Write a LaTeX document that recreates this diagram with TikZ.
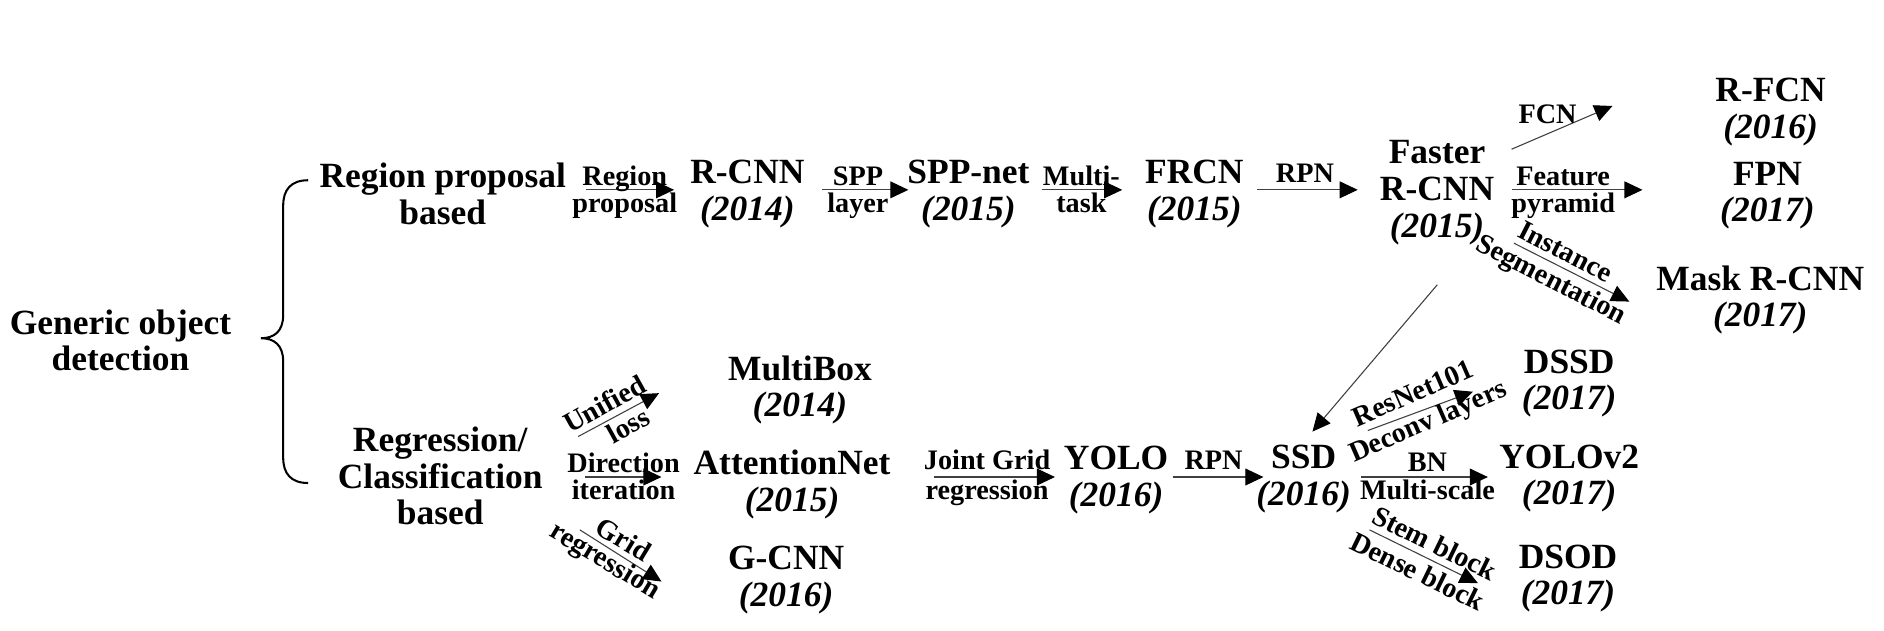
\documentclass[tikz,border=0pt]{standalone}
\usepackage{fontspec}
\setmainfont{Liberation Serif}
\usetikzlibrary{arrows.meta}
\begin{document}
\begin{tikzpicture}[x=1pt,y=-1pt,
  nm/.style={font=\fontsize{29.5}{31}\selectfont\bfseries, inner sep=0pt, anchor=base},
  yr/.style={font=\fontsize{29.5}{31}\selectfont\bfseries\itshape, inner sep=0pt, anchor=base},
  sm/.style={font=\fontsize{23.5}{25}\selectfont\bfseries, inner sep=0pt, anchor=base},
  rl/.style={font=\fontsize{23.5}{25}\selectfont\bfseries, inner sep=0pt, anchor=center},
  arr/.style={draw=black!75, line width=0.9pt, -{Triangle[length=15pt,width=14pt,fill=black,color=black]}},
  brace/.style={draw=black, line width=1.7pt}
]
\useasboundingbox (0,0) rectangle (1568,525);

% root and categories
\node[nm] (gen1) at (100.3,278) {Generic object};
\node[nm] (gen2) at (100.3,308.5) {detection};
\node[nm] (rp1) at (368.5,156) {Region proposal};
\node[nm] (rp2) at (368.5,186.5) {based};
\node[nm] (rc1) at (366.4,375.8) {Regression/};
\node[nm] (rc2) at (366.4,406.3) {Classification};
\node[nm] (rc3) at (366.4,436.8) {based};

% brace
\coordinate (bt) at (256.5,150);
\coordinate (bm) at (217.2,281.5);
\coordinate (bb) at (256.5,402);
\draw[brace] (bt) .. controls (242,150) and (235.7,158) .. (235.7,171) -- (235.7,262)
  .. controls (235.7,276) and (228,281.5) .. (bm)
  .. controls (228,281.5) and (235.7,287) .. (235.7,301) -- (235.7,381)
  .. controls (235.7,394) and (242,402) .. (bb);

% top row methods
\node[nm] (rcnn) at (622,152.6) {R-CNN};
\node[yr] (rcnny) at (622,183.1) {(2014)};
\node[nm] (spp) at (806,152.6) {SPP-net};
\node[yr] (sppy) at (806,183.1) {(2015)};
\node[nm] (frcn) at (994,152.6) {FRCN};
\node[yr] (frcny) at (994,183.1) {(2015)};
\node[nm] (fast1) at (1196,136) {Faster};
\node[nm] (fast2) at (1196,167) {R-CNN};
\node[yr] (fasty) at (1196,198) {(2015)};
\node[nm] (rfcn) at (1473.6,84.7) {R-FCN};
\node[yr] (rfcny) at (1473.6,115.2) {(2016)};
\node[nm] (fpn) at (1471,154) {FPN};
\node[yr] (fpny) at (1471,184.5) {(2017)};
\node[nm] (mask) at (1465,241.4) {Mask R-CNN};
\node[yr] (masky) at (1465,272) {(2017)};

% bottom row methods
\node[nm] (mbox) at (665.8,316.3) {MultiBox};
\node[yr] (mboxy) at (665.8,346.8) {(2014)};
\node[nm] (attn) at (659.2,395.3) {AttentionNet};
\node[yr] (attny) at (659.2,425.8) {(2015)};
\node[nm] (gcnn) at (654.3,474.3) {G-CNN};
\node[yr] (gcnny) at (654.3,504.8) {(2016)};
\node[nm] (yolo) at (928.9,391.1) {YOLO};
\node[yr] (yoloy) at (928.9,421.6) {(2016)};
\node[nm] (ssd) at (1085,389.8) {SSD};
\node[yr] (ssdy) at (1085,420.3) {(2016)};
\node[nm] (dssd) at (1306,310.6) {DSSD};
\node[yr] (dssdy) at (1306,341) {(2017)};
\node[nm] (yolo2) at (1306,389.7) {YOLOv2};
\node[yr] (yolo2y) at (1306,420) {(2017)};
\node[nm] (dsod) at (1305,472.8) {DSOD};
\node[yr] (dsody) at (1305,503.4) {(2017)};

% arrow end points
\coordinate (a1s) at (488,158);   \coordinate (a1e) at (561,158);
\coordinate (a2s) at (684,158);   \coordinate (a2e) at (756,158);
\coordinate (a3s) at (867,158);   \coordinate (a3e) at (934,158);
\coordinate (a4s) at (1046,158);  \coordinate (a4e) at (1130,158);
\coordinate (a5s) at (1258,158);  \coordinate (a5e) at (1367,158);
\coordinate (fcs) at (1258,124.2); \coordinate (fce) at (1342,88.2);
\coordinate (ins) at (1260,202.4); \coordinate (ine) at (1356,251);
\coordinate (dgs) at (1196.2,237); \coordinate (dge) at (1092.3,359.2);
\coordinate (b1s) at (487,397);   \coordinate (b1e) at (550.5,397);
\coordinate (b2s) at (777,397);   \coordinate (b2e) at (878,397);
\coordinate (b3s) at (976,397);   \coordinate (b3e) at (1051.5,397);
\coordinate (b4s) at (1133,397);  \coordinate (b4e) at (1238.3,397);
\coordinate (uns) at (481.2,363.3); \coordinate (une) at (548.5,327.2);
\coordinate (grs) at (482.6,441); \coordinate (gre) at (550.5,484);
\coordinate (rns) at (1138.4,358.3); \coordinate (rne) at (1225.8,326);
\coordinate (sts) at (1139.8,441); \coordinate (ste) at (1230,485.3);

% arrows
\draw[arr] (a1s) -- (a1e);
\draw[arr] (a2s) -- (a2e);
\draw[arr] (a3s) -- (a3e);
\draw[arr] (a4s) -- (a4e);
\draw[arr] (a5s) -- (a5e);
\draw[arr] (fcs) -- (fce);
\draw[arr] (ins) -- (ine);
\draw[arr] (dgs) -- (dge);
\draw[arr] (b1s) -- (b1e);
\draw[arr] (b2s) -- (b2e);
\draw[arr] (b3s) -- (b3e);
\draw[arr] (b4s) -- (b4e);
\draw[arr] (uns) -- (une);
\draw[arr] (grs) -- (gre);
\draw[arr] (rns) -- (rne);
\draw[arr] (sts) -- (ste);

% arrow labels, top row
\node[sm] (l1a) at (520,154) {Region};
\node[sm] (l1b) at (520,176.5) {proposal};
\node[sm] (l2a) at (714,154) {SPP};
\node[sm] (l2b) at (714,176.5) {layer};
\node[sm] (l3a) at (900,154) {Multi-};
\node[sm] (l3b) at (900,176.5) {task};
\node[sm] (l4a) at (1086,152) {RPN};
\node[sm] (l5a) at (1301,154) {Feature};
\node[sm] (l5b) at (1301,176.5) {pyramid};
\node[sm] (lfcn) at (1288,103) {FCN};
\node[rl, rotate=-27] (lins) at (1303,209.4) {Instance};
\node[rl, rotate=-27] (lseg) at (1290.5,234) {Segmentation};

% arrow labels, bottom row
\node[sm] (m1a) at (519,393) {Direction};
\node[sm] (m1b) at (519,415.5) {iteration};
\node[sm] (m2a) at (821.5,391) {Joint Grid};
\node[sm] (m2b) at (821.5,415.5) {regression};
\node[sm] (m3a) at (1010,391) {RPN};
\node[sm] (m4a) at (1188,392) {BN};
\node[sm] (m4b) at (1188,415.5) {Multi-scale};
\node[rl, rotate=29] (mun) at (503,336) {Unified};
\node[rl, rotate=29] (mlo) at (522.5,354) {loss};
\node[rl, rotate=-31] (mgr) at (519,448.6) {Grid};
\node[rl, rotate=-31] (mre) at (503,467.5) {regression};
\node[rl, rotate=23.5] (mres) at (1176,327) {ResNet101};
\node[rl, rotate=23.5] (mdec) at (1189,352) {Deconv layers};
\node[rl, rotate=-26] (mst) at (1194,452) {Stem block};
\node[rl, rotate=-26] (mde) at (1180,475.5) {Dense block};
\end{tikzpicture}
\end{document}
